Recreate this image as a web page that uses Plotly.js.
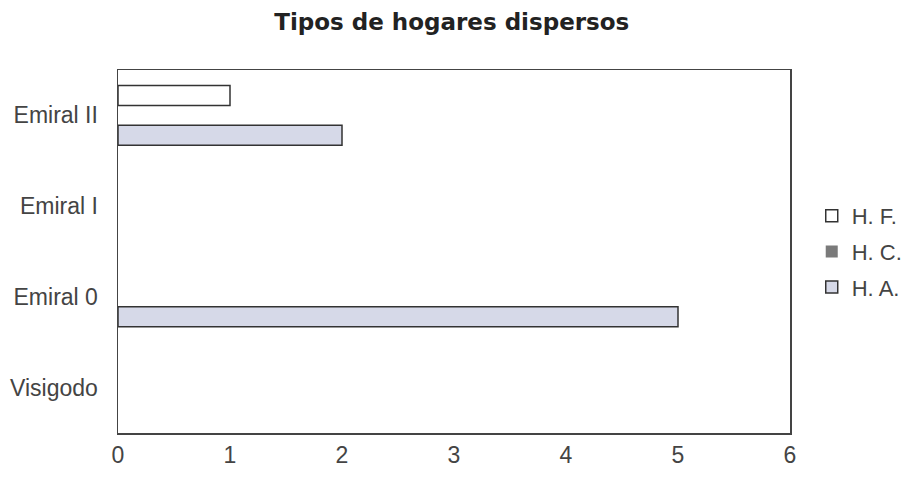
<!DOCTYPE html>
<html>
<head>
<meta charset="utf-8">
<script src="https://cdn.plot.ly/plotly-3.0.1.min.js"></script>
<style>html,body{margin:0;padding:0;background:#fff;}#chart{width:909px;height:487px;}</style>
</head>
<body>
<div id="chart"></div>
<script>
// data listed top category first; axis order set separately below
const categories = ["Emiral II", "Emiral I", "Emiral 0", "Visigodo"];
const axisOrder = ["Visigodo", "Emiral 0", "Emiral I", "Emiral II"];
const seriesNames = ["H. A.", "H. C.", "H. F."];
const valuesHA = [2, 0, 5, 0];
const valuesHC = [0, 0, 0, 0];
const valuesHF = [1, 0, 0, 0];
const xTicks = [0, 1, 2, 3, 4, 5, 6];

const fills = ["#d6d9e8", "#7a7a7a", "#ffffff"];
const ranks = [3, 2, 1];
const allValues = [valuesHA, valuesHC, valuesHF];

const data = allValues.map((vals, i) => ({
  type: "bar",
  orientation: "h",
  name: seriesNames[i],
  y: categories,
  x: vals,
  legendrank: ranks[i],
  legendgroup: "g" + i,
  marker: {
    color: fills[i],
    line: { color: "#333333", width: vals.map(v => (v === 0 ? 0 : 1.5)) }
  },
  hoverinfo: "x+y+name"
}));

const layout = {
  width: 909,
  height: 487,
  margin: { l: 118, r: 119, t: 70, b: 54 },
  paper_bgcolor: "#ffffff",
  plot_bgcolor: "#ffffff",
  font: { family: "Liberation Sans, Arial, sans-serif", size: 23, color: "#444444" },
  title: {
    text: "<b>Tipos de hogares dispersos</b>",
    font: { family: "DejaVu Sans, sans-serif", size: 23, color: "#222222" },
    x: 0.497, xanchor: "center", y: 0.955, yanchor: "middle"
  },
  barmode: "group",
  bargap: 0.34,
  bargroupgap: 0,
  xaxis: {
    range: [0, 6],
    tickvals: xTicks,
    showgrid: false,
    zeroline: false,
    showline: true,
    linecolor: "#444444",
    linewidth: 1.5,
    mirror: true,
    ticks: "",
    ticklabelstandoff: 1,
    tickfont: { size: 23, color: "#444444" },
    fixedrange: true
  },
  yaxis: {
    type: "category",
    categoryorder: "array",
    categoryarray: axisOrder,
    showgrid: false,
    zeroline: false,
    showline: true,
    linecolor: "#444444",
    linewidth: 1.5,
    mirror: true,
    ticks: "",
    ticklabelstandoff: 14,
    tickfont: { size: 23, color: "#444444" },
    fixedrange: true
  },
  showlegend: true,
  legend: {
    xref: "container",
    x: 0.893, xanchor: "left",
    y: 0.5, yanchor: "middle",
    traceorder: "grouped",
    tracegroupgap: 4,
    font: { size: 22, color: "#444444" },
    bgcolor: "rgba(0,0,0,0)",
    borderwidth: 0
  }
};

Plotly.newPlot("chart", data, layout, { displayModeBar: false, staticPlot: true });
</script>
</body>
</html>
